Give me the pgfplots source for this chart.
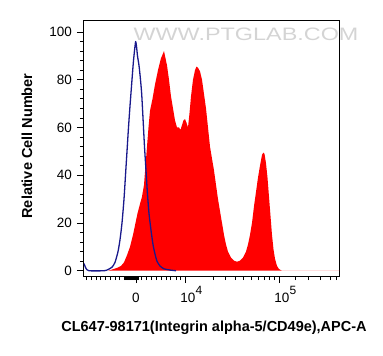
\documentclass[border=0pt]{standalone}
\usepackage{pgfplots}
\pgfplotsset{compat=1.18}
\usepackage{fontspec}
\setmainfont{Liberation Sans}
\definecolor{histred}{RGB}{255,0,0}
\definecolor{ctrlblue}{RGB}{25,25,140}
\definecolor{wmgray}{RGB}{212,212,212}
\begin{document}
\begin{tikzpicture}
\begin{axis}[name=ax, scale only axis, width=256bp, height=255bp,
  xmin=84, xmax=340, ymin=-2.2, ymax=104.6,
  clip mode=individual,
  axis line style={black, line width=1bp},
  tick align=outside, tick style={black, line width=0.8bp},
  major tick length=7bp, minor tick length=4bp,
  xtick pos=bottom, ytick pos=left,
  xtick={136,185,279},
  xticklabels={0, \hspace{6bp}10\rlap{\raisebox{8bp}{\fontsize{12bp}{12bp}\selectfont 4}}, \hspace{6bp}10\rlap{\raisebox{8bp}{\fontsize{12bp}{12bp}\selectfont 5}}},
  minor xtick={86.7,91.7,96.7,100.7,105.7,110,115,119.3,124,125,126,127,128,129,130,131,132,133,134,135,137,138,141.7,146,151,156,161,166,170.7,176,180,213.3,225,235,243.3,251.7,258.3,264,269.3,274.3,295,308.3,320,330,336.7},
  ytick={0,20,40,60,80,100}, minor y tick num=4,
  /pgf/number format/assume math mode=true,
  ticklabel style={font=\fontsize{13.5bp}{15bp}\selectfont},
  yticklabel style={anchor=east, inner sep=0pt, xshift=-5bp},
  xticklabel style={anchor=base, inner sep=0pt, yshift=-19bp},
  xlabel={CL647-98171(Integrin alpha-5/CD49e),APC-A},
  ylabel={Relative Cell Number},
  xlabel style={at={(axis description cs:0.5,0)}, anchor=center, xshift=2bp, yshift=-52bp, font=\fontsize{14.5bp}{17bp}\selectfont\bfseries},
  ylabel style={at={(axis description cs:0,0.5)}, anchor=center, xshift=2.5bp, yshift=57bp, font=\fontsize{14.5bp}{17bp}\selectfont\bfseries},
]
\addplot[fill=histred, draw=none] coordinates {
(108,0)(112,0.5)(117,1.2)(121,2)(124,3.5)(127,6.5)(130,10)(133,15)(135.5,20)(137.5,24)(140,28)(142,31)(144,36)(145.5,44)(147,52)(148.5,60)(150,67)(152.5,72)(155,78)(158,84)(161,89)(163,91)(164,92)(165.5,89)(167,86)(169,80)(171,73)(173,68)(175,63)(177,60)(179,60)(180.5,59)(182,61)(183.5,63)(185,63.5)(186.5,62)(188,60)(189.5,66)(191,73)(193,80)(195,84)(196.5,85.5)(198,85)(200,83.5)(202,80)(204,74)(206,68)(208,60)(210,52)(212,47)(214,42)(216,36)(218,30)(220,25)(222,20)(224,15)(226,11)(228,8)(231,5.5)(234,4.2)(237,3.8)(240,4.2)(243,5.5)(246,8)(248,11)(250,15)(252,20)(254,27)(256,33)(258,39)(260,44)(262,48.5)(263.3,49.5)(264.5,49)(266,45)(267.5,39)(269,31)(270.5,23)(272,15)(273.5,9)(275,5)(277,2)(279,0.7)(282,0)(340,0)
} \closedcycle;
\addplot[color=ctrlblue, line width=1.3bp, line join=round, smooth, tension=0.4] coordinates {
(84,3)(86,1)(89,0)(104,0)(108,0.5)(112,1.5)(115,3.5)(118,8)(120,13)(122,20)(124,30)(125.5,40)(127,50)(128.5,60)(130,69)(132,80)(133.5,88)(135,94)(135.7,96)(136.5,94)(137.5,90)(139,86)(140.5,80)(141.7,74)(143,64)(144.5,52)(146,42)(147.5,32)(149,24)(151,17)(153,11)(155,7)(157,4)(160,2)(164,0.8)(170,0.3)(176,0)
};
\node[text=wmgray, font=\fontsize{18bp}{18bp}\selectfont, xscale=1.3] at (axis cs:246,99.2) {WWW.PTGLAB.COM};
\end{axis}
\pgfresetboundingbox
\path[use as bounding box] ([shift={(-84bp,-80bp)}]ax.south west) rectangle ([shift={(43bp,21bp)}]ax.north east);
\end{tikzpicture}
\end{document}
